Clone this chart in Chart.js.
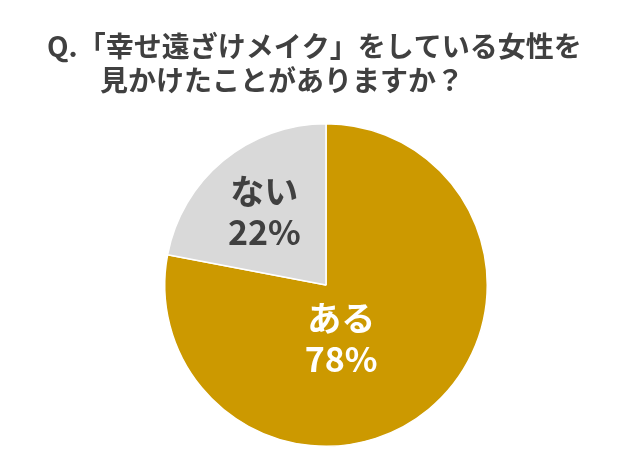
<!DOCTYPE html>
<html><head><meta charset="utf-8">
<script src="https://cdn.jsdelivr.net/npm/chart.js@4"></script>
<style>html,body{margin:0;padding:0;background:#fff}#w{width:625px;height:469px}</style>
</head><body><div id="w"><canvas id="c"></canvas></div>
<script>
const categories = ["ある", "ない"];
const values = [78, 22];
const colors = ["#CC9900", "#D9D9D9"];
const labelColors = ["#FFFFFF", "#404040"];
const titleLines = ["Q.「幸せ遠ざけメイク」をしている女性を", "見かけたことがありますか？"];

const labelPlugin = {
  id: 'labels',
  afterDraw(chart) {
    const ctx = chart.ctx;
    ctx.save();
    ctx.fillStyle = '#404040';
    ctx.font = 'bold 28px "Noto Sans CJK JP"';
    ctx.textBaseline = 'middle';
    ctx.textAlign = 'left';
    ctx.fillText(titleLines[0], 47, 46);
    ctx.fillText(titleLines[1], 100, 80);
    const meta = chart.getDatasetMeta(0);
    const fr = [0.42, 0.6];
    meta.data.forEach((arc, i) => {
      const p = arc.getProps(['x','y','startAngle','endAngle','outerRadius']);
      const a = (p.startAngle + p.endAngle) / 2;
      const r = p.outerRadius * fr[i];
      const x = p.x + Math.cos(a) * r - (i === 0 ? 28 : 0);
      const y = p.y + Math.sin(a) * r;
      ctx.fillStyle = labelColors[i];
      ctx.textAlign = 'center';
      ctx.font = 'bold 34px "Noto Sans CJK JP"';
      ctx.fillText(categories[i], x, y - 19);
      ctx.fillText(values[i] + '%', x, y + 22);
    });
    ctx.restore();
  }
};

new Chart(document.getElementById('c'), {
  type: 'pie',
  data: { labels: categories, datasets: [{ data: values, backgroundColor: colors, borderColor: '#fff', borderWidth: 1.5 }] },
  options: {
    responsive: true, maintainAspectRatio: false, animation: false,
    layout: { padding: { top: 123, bottom: 22, left: 27, right: 0 } },
    plugins: { legend: { display: false }, tooltip: { enabled: false } }
  },
  plugins: [labelPlugin]
});
</script></body></html>
